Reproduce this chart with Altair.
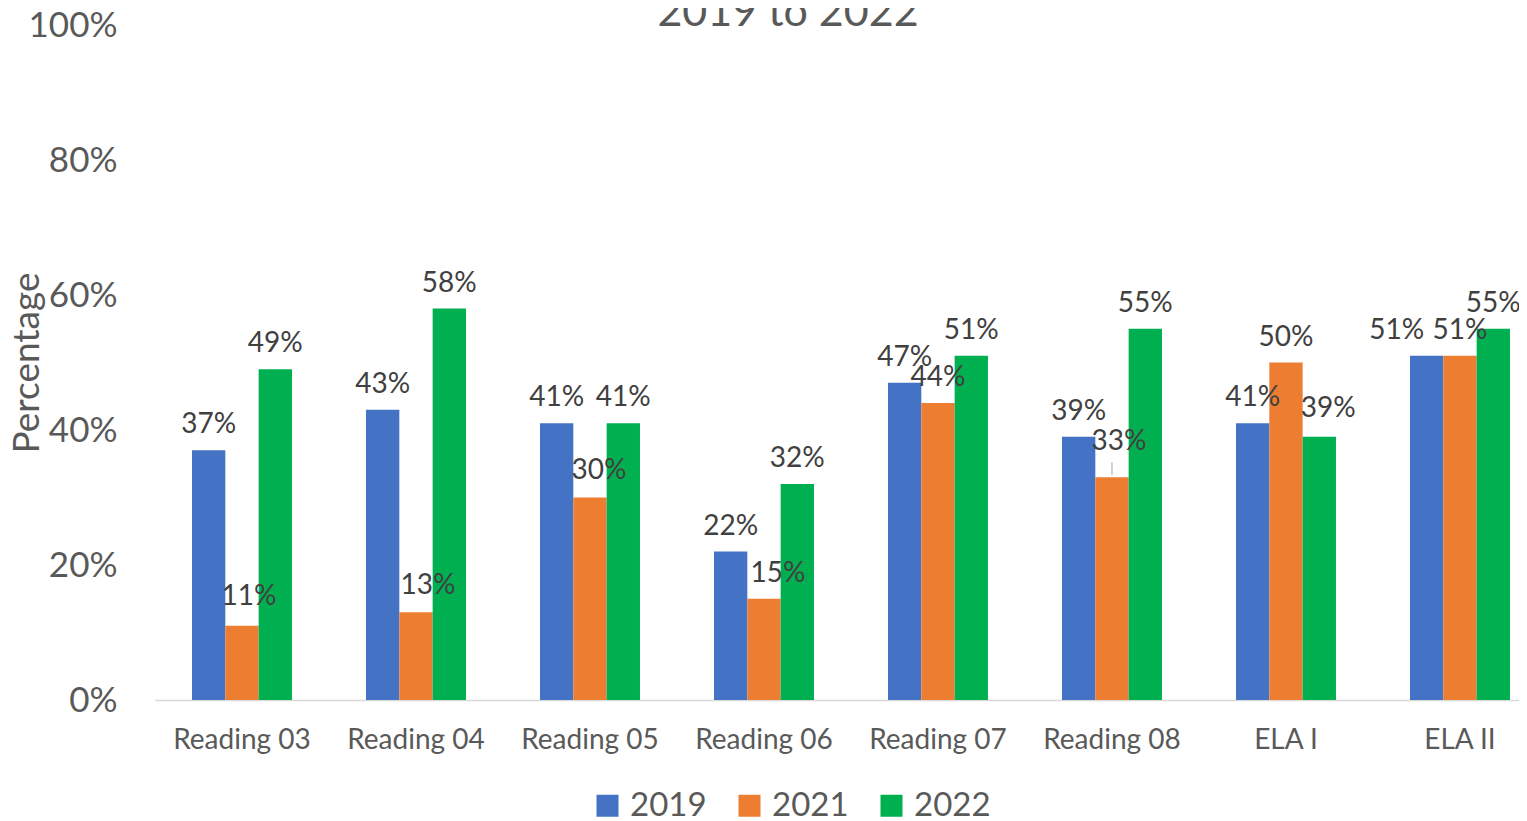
import altair as alt
import pandas as pd

tests = ["Reading 03", "Reading 04", "Reading 05", "Reading 06",
         "Reading 07", "Reading 08", "ELA I", "ELA II"]
years = ["2019", "2021", "2022"]
v2019 = [37, 43, 41, 22, 47, 39, 41, 51]
v2021 = [11, 13, 30, 15, 44, 33, 50, 51]
v2022 = [49, 58, 41, 32, 51, 55, 39, 55]
colors = ["#4472C4", "#ED7D31", "#00B050"]
title_text = "2019 to 2022"

rows = []
for t, a, b, c in zip(tests, v2019, v2021, v2022):
    for yr, v in zip(years, (a, b, c)):
        rows.append({"test": t, "year": yr, "value": v / 100})
df = pd.DataFrame(rows)

# label nudges (style only): (test, year, dx, dy)
nudges = [("Reading 03", "2021", 7, -4), ("Reading 04", "2021", 12, -1),
          ("Reading 05", "2021", 9, -2), ("Reading 06", "2021", 14, 0),
          ("Reading 08", "2021", 7, -10), ("ELA I", "2022", 9, -3),
          ("ELA II", "2019", -30, 0)]

FONT = "Lato"
W, H = 1364, 675
TXT = "#595959"

x = alt.X("test:N", sort=tests,
          scale=alt.Scale(paddingInner=0.4253, paddingOuter=0.1322, align=0.804),
          axis=alt.Axis(title=None, labelAngle=0, labelFont=FONT, labelFontSize=28,
                        labelColor=TXT, labelPadding=26, ticks=False, tickSize=0,
                        domainColor="#D9D9D9", domainWidth=1.5))
xo = alt.XOffset("year:N", sort=years, scale=alt.Scale(paddingInner=0, paddingOuter=0))
y = alt.Y("value:Q", scale=alt.Scale(domain=[0, 1], nice=False),
          axis=alt.Axis(format=".0%", values=[0, 0.2, 0.4, 0.6, 0.8, 1.0], grid=False,
                        domain=False, ticks=False, tickSize=0, labelFont=FONT,
                        labelFontSize=35, labelColor=TXT, labelPadding=38,
                        title="Percentage", titleFont=FONT, titleFontSize=37,
                        titleColor=TXT, titleFontWeight="normal", titleX=-128,
                        titleBaseline="middle"))

base = alt.Chart(df)

bars = base.mark_bar().encode(
    x=x, xOffset=xo, y=y,
    color=alt.Color("year:N", sort=years, scale=alt.Scale(domain=years, range=colors),
                    legend=alt.Legend(orient="none", direction="horizontal",
                                      legendX=436, legendY=764, title=None,
                                      symbolType="square", symbolSize=484,
                                      symbolStrokeWidth=0, symbolOpacity=1,
                                      labelFont=FONT, labelFontSize=33, labelColor=TXT,
                                      labelOffset=6, columnPadding=26, padding=0)),
)

nudge_expr = " || ".join(
    f"(datum.test == '{t}' && datum.year == '{yr}')" for t, yr, _, _ in nudges)

labels = base.transform_filter(f"!({nudge_expr})").mark_text(
    font=FONT, fontSize=28, color="#404040", baseline="alphabetic", dy=-17
).encode(x=alt.X("test:N", sort=tests), xOffset=xo, y="value:Q",
         text=alt.Text("value:Q", format=".0%"))

layers = [bars, labels]
for t, yr, dx, dy in nudges:
    layers.append(
        base.transform_filter(f"datum.test == '{t}' && datum.year == '{yr}'").mark_text(
            font=FONT, fontSize=28, color="#404040", baseline="alphabetic",
            dx=dx, dy=-17 + dy
        ).encode(x=alt.X("test:N", sort=tests), xOffset=xo, y="value:Q",
                 text=alt.Text("value:Q", format=".0%"))
    )

leader = base.transform_filter("datum.test == 'Reading 08' && datum.year == '2021'").transform_calculate(
    y1="datum.value + 0.003", y2="datum.value + 0.022"
).mark_rule(color="#A6A6A6", strokeWidth=1).encode(
    x=alt.X("test:N", sort=tests), xOffset=xo, y="y1:Q", y2="y2:Q")
layers.append(leader)

title = alt.Chart(pd.DataFrame({"t": [title_text]})).mark_text(
    font=FONT, fontSize=43, color=TXT, baseline="alphabetic", align="center"
).encode(text="t:N", x=alt.value(633), y=alt.value(1))
layers.append(title)

chart = alt.layer(*layers).properties(
    width=W, height=H,
    autosize=alt.AutoSizeParams(type="none"),
    padding={"left": 147, "top": 17, "right": 0, "bottom": 123},
).configure_view(stroke=None)

chart.save("out.html", embed_options={"renderer": "svg", "actions": False})
